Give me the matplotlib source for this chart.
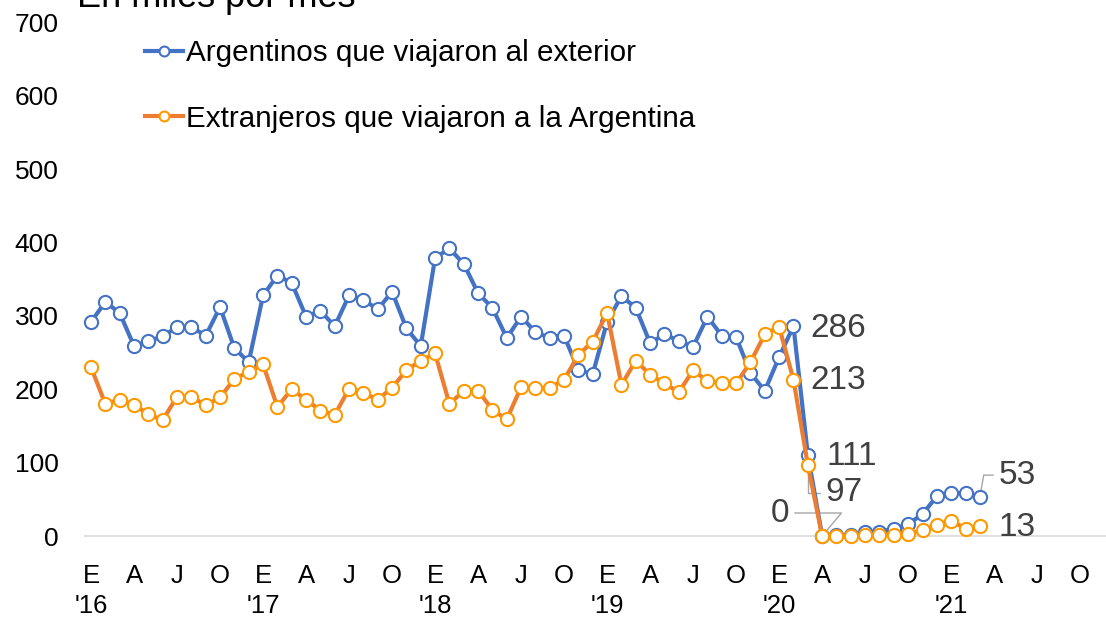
import numpy as np
import matplotlib
matplotlib.use("Agg")
import matplotlib.pyplot as plt

plt.rcParams["font.family"] = ["Liberation Sans", "DejaVu Sans"]

# Monthly data, Jan 2016 .. Mar 2021 (thousands per month)
argentinos = [
    292, 319, 304, 259, 266, 272, 285, 285, 273, 312, 256, 237,   # 2016
    328, 355, 345, 299, 307, 286, 328, 322, 309, 333, 283, 259,   # 2017
    379, 392, 371, 331, 311, 270, 299, 278, 270, 273, 226, 221,   # 2018
    292, 327, 311, 263, 275, 266, 258, 299, 273, 271, 222, 198,   # 2019
    244, 286, 111, 0, 1, 1, 5, 6, 10, 16, 30, 54,                 # 2020
    59, 58, 53,                                                   # 2021
]
extranjeros = [
    230, 180, 186, 179, 166, 158, 190, 190, 178, 189, 214, 224,
    234, 176, 200, 186, 171, 165, 201, 195, 186, 202, 226, 239,
    249, 180, 198, 198, 172, 159, 203, 202, 202, 213, 247, 265,
    304, 206, 239, 220, 208, 196, 226, 211, 208, 208, 237, 275,
    285, 213, 97, 0, 0, 0, 1, 1, 2, 3, 8, 15,
    21, 10, 13,
]
month_letters = ["E", "A", "J", "O"]
years = ["'16", "'17", "'18", "'19", "'20", "'21"]
y_ticks = [0, 100, 200, 300, 400, 500, 600, 700]

months = np.arange(len(argentinos))

blue = "#4472C4"
orange = "#ED7D31"
orange_mk = "#FF9900"
lab_col = "#404040"

fig = plt.figure(figsize=(11.06, 6.19), dpi=100)
ax = fig.add_axes([85 / 1106, 83 / 619, 1 - 85 / 1106, 513.5 / 619])

ax.plot(months, argentinos, color=blue, lw=3, marker="o", ms=9.5,
        mfc="white", mec=blue, mew=1.5, zorder=4, clip_on=False,
        label="Argentinos que viajaron al exterior")
ax.plot(months, extranjeros, color=orange, lw=3, marker="o", ms=9.5,
        mfc="white", mec=orange_mk, mew=1.5, zorder=5, clip_on=False,
        label="Extranjeros que viajaron a la Argentina")

ax.set_xlim(-0.42, 70.8)
ax.set_ylim(0, 700)

# x ticks: quarters with year under January
xt = np.arange(0, 70, 3)
xl = []
for i, t in enumerate(xt):
    lab = month_letters[i % 4]
    if i % 4 == 0 and i // 4 < len(years):
        lab = lab + "\n" + years[i // 4]
    xl.append(lab)
ax.set_xticks(xt)
ax.set_xticklabels(xl, fontsize=18.5, linespacing=1.32)
ax.set_yticks(y_ticks)
ax.set_yticklabels([str(v) for v in y_ticks], fontsize=19)
ax.tick_params(axis="x", length=0, pad=20)
ax.tick_params(axis="y", length=0, pad=19)

for s in ["top", "right", "left"]:
    ax.spines[s].set_visible(False)
ax.spines["bottom"].set_color("#d9d9d9")
ax.spines["bottom"].set_linewidth(1.2)

# data labels
lp = dict(fontsize=24, color=lab_col, textcoords="offset pixels", va="center")
lead = dict(arrowstyle="-", color="#a6a6a6", lw=1, shrinkA=2, shrinkB=5)
ax.annotate("286", (49, argentinos[49]), xytext=(17, -2), ha="left", **lp)
ax.annotate("213", (49, extranjeros[49]), xytext=(17, -1), ha="left", **lp)
ax.annotate("111", (50, argentinos[50]), xytext=(19, -2), ha="left", **lp)
ax.annotate("97", (50, extranjeros[50]), xytext=(18, -28), ha="left",
            arrowprops=dict(connectionstyle="angle,angleA=0,angleB=90,rad=0",
                            relpos=(0, 0.5), **lead), **lp)
ax.annotate("0", (51, extranjeros[51]), xytext=(-33, 23), ha="right",
            arrowprops=dict(connectionstyle="angle,angleA=0,angleB=50,rad=0",
                            relpos=(1, 0.5), **lead), **lp)
ax.annotate("53", (62, argentinos[62]), xytext=(19, 22), ha="left",
            arrowprops=dict(connectionstyle="angle,angleA=0,angleB=80,rad=0",
                            relpos=(0, 0.5), **lead), **lp)
ax.annotate("13", (62, extranjeros[62]), xytext=(19, -1), ha="left", **lp)

leg = ax.legend(loc="upper left", bbox_to_anchor=(145 / 1106, 1 - 39 / 619),
                bbox_transform=fig.transFigure, frameon=False, fontsize=21.3,
                handlelength=1.3, handletextpad=0.1, labelspacing=1.27,
                borderpad=0, borderaxespad=0, markerscale=0.75)

fig.text(77 / 1106, 1 - 7 / 619, "En miles por mes", fontsize=26,
         ha="left", va="baseline")

fig.savefig("out.png", dpi=100)
